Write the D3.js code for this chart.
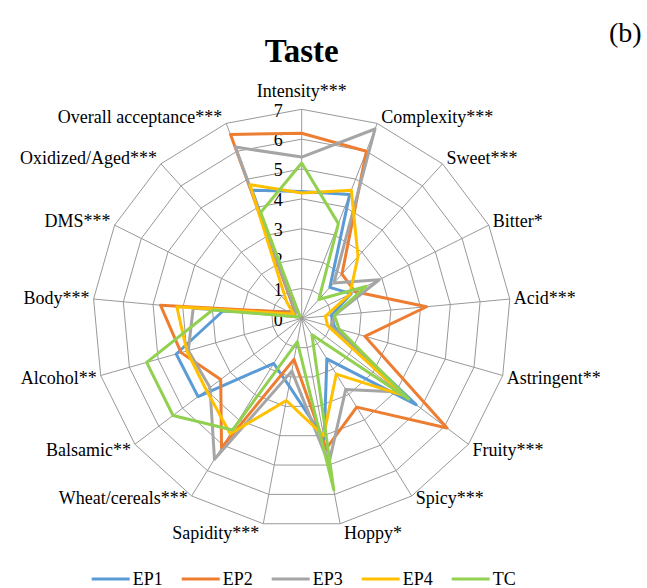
<!DOCTYPE html>
<html>
<head>
<meta charset="utf-8">
<script src="https://cdn.jsdelivr.net/npm/d3@7"></script>
<style>
  html, body { margin: 0; padding: 0; background: #fff; }
  svg { display: block; }
  text { font-family: "Times New Roman", "Liberation Serif", serif; fill: #000; }
</style>
</head>
<body>
<svg id="chart"></svg>
<script>
// attributes, clockwise from the top
const categories = ["Intensity***", "Complexity***", "Sweet***", "Bitter*", "Acid***", "Astringent**",
  "Fruity***", "Spicy***", "Hoppy*", "Sapidity***", "Wheat/cereals***", "Balsamic**", "Alcohol**",
  "Body***", "DMS***", "Oxidized/Aged***", "Overall acceptance***"];

const seriesNames = ["EP1", "EP2", "EP3", "EP4", "TC"];
const seriesColors = ["#5B9BD5", "#ED7D31", "#A5A5A5", "#FFC000", "#92D050"];

const ep1 = [4.25, 4.45, 1.4, 1.85, 1.0, 1.15, 4.8, 1.6, 4.1, 2.3, 1.78, 4.35, 4.37, 2.65, 0.5, 0.35, 4.6];
const ep2 = [6.2, 6.0, 2.0, 2.0, 4.2, 2.2, 6.1, 3.5, 4.45, 1.4, 5.1, 3.4, 4.2, 4.75, 0.45, 0.35, 6.6];
const ep3 = [5.4, 6.8, 1.6, 2.9, 1.1, 1.05, 4.1, 2.8, 4.95, 1.8, 5.55, 3.85, 3.95, 3.65, 0.25, 0.3, 6.15];
const ep4 = [4.2, 4.6, 2.8, 1.8, 0.8, 0.9, 4.3, 2.2, 4.0, 2.8, 4.55, 4.0, 4.0, 4.2, 0.3, 0.75, 4.8];
const tc  = [5.2, 3.4, 0.85, 2.4, 1.1, 1.3, 4.5, 0.65, 5.85, 0.8, 4.4, 5.4, 5.4, 3.0, 0.1, 0.1, 3.8];

const tickValues = [0, 1, 2, 3, 4, 5, 6, 7];

const width = 647;
const height = 588;
const cx = 301.7, cy = 318.3;

const svg = d3.select("#chart")
    .attr("width", width)
    .attr("height", height)
    .attr("viewBox", [0, 0, width, height]);

const r = d3.scaleLinear().domain([0, 7]).range([0, 209]);
const angle = d3.scaleLinear().domain([0, categories.length]).range([0, 2 * Math.PI]);

const g = svg.append("g").attr("transform", `translate(${cx},${cy})`);

// grid rings
const ring = d3.lineRadial()
    .angle((d, i) => angle(i))
    .radius(d => r(d))
    .curve(d3.curveLinearClosed);

g.append("g")
    .selectAll("path")
    .data(tickValues.slice(1))
    .join("path")
    .attr("d", v => ring(categories.map(() => v)))
    .attr("fill", "none")
    .attr("stroke", "#999")
    .attr("stroke-width", 1);

// spokes
g.append("g")
    .selectAll("line")
    .data(categories)
    .join("line")
    .attr("x1", 0).attr("y1", 0)
    .attr("x2", (d, i) => r(7) * Math.sin(angle(i)))
    .attr("y2", (d, i) => -r(7) * Math.cos(angle(i)))
    .attr("stroke", "#999")
    .attr("stroke-width", 1);

// tick labels
g.append("g")
    .selectAll("text")
    .data(tickValues)
    .join("text")
    .attr("x", -19)
    .attr("y", d => -r(d) + 1)
    .attr("dy", "0.35em")
    .attr("text-anchor", "end")
    .attr("font-size", 18)
    .text(d => d);

// category labels
g.append("g")
    .selectAll("text")
    .data(categories)
    .join("text")
    .attr("font-size", 18)
    .each(function (d, i) {
        const a = angle(i);
        const s = Math.sin(a), c = Math.cos(a);
        const ex = r(7) * s, ey = -r(7) * c;
        let anchor = "middle", x = ex;
        if (s > 0.1) { anchor = "start"; x = ex + 4; }
        else if (s < -0.1) { anchor = "end"; x = ex - 4; }
        let y = ey - c * 9;
        if (Math.abs(s) < 0.1 && c > 0) y = ey - 19;
        if (c < -0.8 && c > -0.9) y = ey + 2;
        if (c > 0.9 && Math.abs(s) > 0.1) y = ey - 7;
        d3.select(this)
            .attr("x", x)
            .attr("y", y)
            .attr("dy", "0.35em")
            .attr("text-anchor", anchor)
            .text(d);
    });

// series
const series = seriesNames.map((name, k) => ({
    name, color: seriesColors[k], values: [ep1, ep2, ep3, ep4, tc][k]
}));

const line = d3.lineRadial()
    .angle((d, i) => angle(i))
    .radius(d => r(d))
    .curve(d3.curveLinearClosed);

g.append("g")
    .selectAll("path")
    .data(series)
    .join("path")
    .attr("d", d => line(d.values))
    .attr("fill", "none")
    .attr("stroke", d => d.color)
    .attr("stroke-width", 3)
    .attr("stroke-linejoin", "round");

// title
svg.append("text")
    .attr("x", cx)
    .attr("y", 62)
    .attr("text-anchor", "middle")
    .attr("font-size", 33)
    .attr("font-weight", "bold")
    .text("Taste");

svg.append("text")
    .attr("x", 609)
    .attr("y", 42)
    .attr("font-size", 28)
    .text("(b)");

// legend
const legend = svg.append("g")
    .selectAll("g")
    .data(series)
    .join("g")
    .attr("transform", (d, i) => `translate(${91.7 + i * 90},579)`);

legend.append("line")
    .attr("x1", 0).attr("x2", 38)
    .attr("stroke", d => d.color)
    .attr("stroke-width", 3);

legend.append("text")
    .attr("x", 41)
    .attr("dy", "0.35em")
    .attr("font-size", 18)
    .text(d => d.name);
</script>
</body>
</html>
